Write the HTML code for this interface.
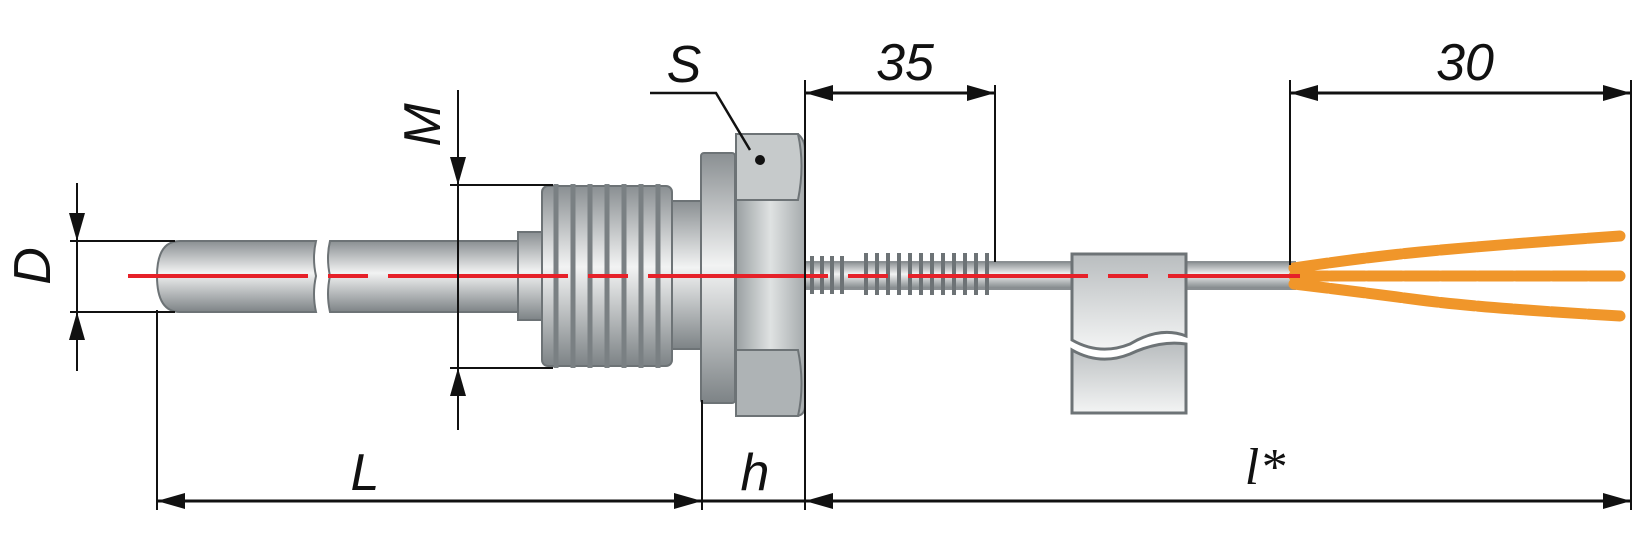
<!DOCTYPE html>
<html><head><meta charset="utf-8"><style>html,body{margin:0;padding:0;background:#fff}svg{display:block}</style></head>
<body>
<svg width="1652" height="545" viewBox="0 0 1652 545" xmlns="http://www.w3.org/2000/svg" font-family="Liberation Sans, sans-serif" font-style="italic">
<defs>
<linearGradient id="m" x1="0" y1="0" x2="0" y2="1">
<stop offset="0" stop-color="#8a8f92"/><stop offset="0.45" stop-color="#f2f3f3"/><stop offset="1" stop-color="#7d8386"/></linearGradient>
<linearGradient id="h" x1="0" y1="0" x2="1" y2="0">
<stop offset="0" stop-color="#9aa0a2"/><stop offset="0.5" stop-color="#dfe2e2"/><stop offset="1" stop-color="#a5aaac"/></linearGradient>
<linearGradient id="c" x1="0" y1="0" x2="0" y2="1">
<stop offset="0" stop-color="#b9bdbf"/><stop offset="1" stop-color="#f3f4f4"/></linearGradient>
</defs>
<path d="M180,241 H316 Q312,258 316,276 Q312,294 316,312 H180 Q157,312 157,276 Q157,241 180,241 Z" fill="url(#m)" stroke="#6d7376" stroke-width="2"/>
<path d="M330,241 H522 V312 H330 Q326,294 330,276 Q326,258 330,241 Z" fill="url(#m)" stroke="#6d7376" stroke-width="2"/>
<rect x="518" y="232" width="26" height="88" fill="url(#m)" stroke="#6d7376" stroke-width="2"/>
<rect x="542" y="186" width="130" height="180" rx="6" fill="url(#m)" stroke="#6d7376" stroke-width="2"/>
<g stroke="#7a8083" stroke-width="5">
<line x1="556" y1="184" x2="556" y2="368"/><line x1="573" y1="184" x2="573" y2="368"/><line x1="590" y1="184" x2="590" y2="368"/><line x1="607" y1="184" x2="607" y2="368"/><line x1="624" y1="184" x2="624" y2="368"/><line x1="641" y1="184" x2="641" y2="368"/><line x1="658" y1="184" x2="658" y2="368"/></g>
<rect x="672" y="201" width="30" height="148" fill="url(#m)" stroke="#6d7376" stroke-width="2"/>
<rect x="701" y="153" width="34" height="250" rx="3" fill="url(#m)" stroke="#6d7376" stroke-width="2"/>
<path d="M736,134 H798 Q805,140 805,150 V406 Q805,414 798,416 H736 Z" fill="url(#h)" stroke="#6d7376" stroke-width="2"/>
<path d="M736,134 H798 Q805,165 798,200 H736 Z" fill="#c6cacb" stroke="#6d7376" stroke-width="2"/>
<path d="M736,350 H798 Q805,385 798,416 H736 Z" fill="#aeb3b5" stroke="#6d7376" stroke-width="2"/>
<rect x="805" y="262" width="490" height="27" fill="url(#m)" stroke="#8a8f92" stroke-width="2"/>
<g stroke="#6d7376" stroke-width="4" fill="none">
<path d="M812,256 v38 M822,256 v38 M832,256 v38 M842,256 v38"/>
<path d="M866,253 v42 M877,253 v42 M888,253 v42 M899,253 v42 M910,253 v42 M921,253 v42 M932,253 v42 M943,253 v42 M954,253 v42 M965,253 v42 M976,253 v42 M987,253 v42"/></g>
<path d="M1072,254 H1186 V336 Q1160,326 1130,344 Q1100,356 1072,340 Z" fill="url(#c)" stroke="#6d7376" stroke-width="3"/>
<path d="M1072,350 Q1100,366 1130,354 Q1160,340 1186,344 V413 H1072 Z" fill="url(#c)" stroke="#6d7376" stroke-width="3"/>
<g stroke="#f0962a" stroke-width="11" fill="none" stroke-linecap="round" stroke-dasharray="34 3">
<path d="M1294,268 Q1360,258 1420,252 T1620,236"/>
<path d="M1294,276 Q1400,276 1620,276"/>
<path d="M1294,284 Q1360,292 1420,300 T1620,316"/></g>
<line x1="128" y1="276" x2="1300" y2="276" stroke="#e62129" stroke-width="4" stroke-dasharray="180 20 40 20"/>
<g stroke="#111" stroke-width="2" fill="none">
<line x1="77" y1="183" x2="77" y2="371"/>
<line x1="70" y1="241" x2="175" y2="241"/><line x1="70" y1="312" x2="175" y2="312"/>
<line x1="458" y1="90" x2="458" y2="430"/>
<line x1="450" y1="185" x2="553" y2="185"/><line x1="450" y1="368" x2="553" y2="368"/>
<line x1="157" y1="310" x2="157" y2="510"/>
<line x1="702" y1="400" x2="702" y2="510"/>
<line x1="805" y1="80" x2="805" y2="510"/>
<line x1="995" y1="85" x2="995" y2="262"/>
<line x1="1290" y1="80" x2="1290" y2="265"/>
<line x1="1631" y1="80" x2="1631" y2="510"/>
<path d="M650,93 H716 L750,150" stroke-width="2.5"/>
</g>
<g stroke="#111" stroke-width="3">
<line x1="157" y1="501" x2="1631" y2="501"/>
<line x1="805" y1="93" x2="995" y2="93"/>
<line x1="1290" y1="93" x2="1631" y2="93"/>
</g>
<g fill="#111">
<polygon points="157,501 185,493 185,509"/><polygon points="702,501 674,493 674,509"/>
<polygon points="805,501 833,493 833,509"/><polygon points="1631,501 1603,493 1603,509"/>
<polygon points="805,93 833,85 833,101"/><polygon points="995,93 967,85 967,101"/>
<polygon points="1290,93 1318,85 1318,101"/><polygon points="1631,93 1603,85 1603,101"/>
<polygon points="77,241 69,213 85,213"/><polygon points="77,312 69,340 85,340"/>
<polygon points="458,185 450,157 466,157"/><polygon points="458,368 450,396 466,396"/>
<circle cx="760" cy="160" r="5"/>
</g>
<g font-size="52" fill="#111" text-anchor="middle">
<text x="684" y="82">S</text>
<text x="905" y="80">35</text>
<text x="1465" y="80">30</text>
<text x="365" y="490">L</text>
<text x="755" y="490">h</text>
<text x="1265" y="484" font-family="Liberation Serif, serif">l*</text>
<text transform="translate(50,266) rotate(-90)">D</text>
<text transform="translate(440,125) rotate(-90)">M</text>
</g>
</svg>
</body></html>
